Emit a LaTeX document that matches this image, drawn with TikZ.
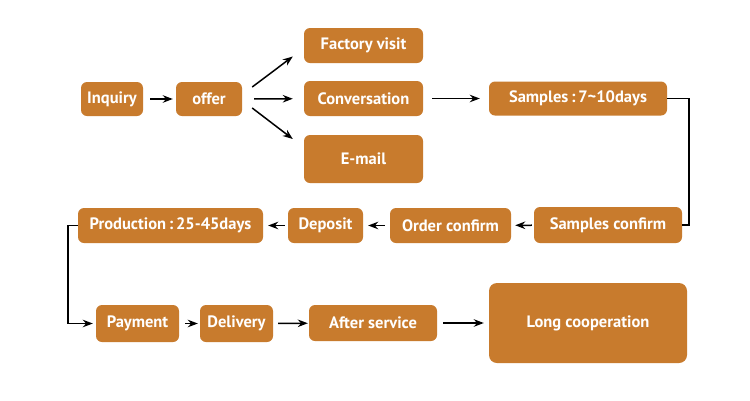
\documentclass[tikz,border=0pt]{standalone}
\usepackage{fontspec}
\setmainfont{PT Sans}
\usetikzlibrary{arrows.meta,calc}
\definecolor{boxc}{HTML}{C87B2D}
\begin{document}
\begin{tikzpicture}[x=1pt,y=-1pt,
  box/.style={fill=boxc, rounded corners=6pt, text=white, font=\fontsize{16.5}{18}\selectfont\bfseries, inner sep=0pt, anchor=center},
  arr/.style={line width=1.5pt, -{Stealth[length=10pt,width=7.5pt]}},
  ln/.style={line width=1.5pt}]
\useasboundingbox (0,0) rectangle (750,400);
\fill[white] (0,0) rectangle (750,400);
\node[box, minimum width=62pt, minimum height=34pt] (inq) at (112,99) {Inquiry};
\node[box, minimum width=66pt, minimum height=34pt] (offer) at (209,99) {offer};
\node[box, minimum width=119pt, minimum height=35pt] (fv) at (363.5,45.5) {Factory visit};
\node[box, minimum width=119pt, minimum height=35pt] (conv) at (363.5,98.5) {Conversation};
\node[box, minimum width=119pt, minimum height=48pt] (email) at (363.5,159) {E-mail};
\node[box, minimum width=178pt, minimum height=34pt] (samp) at (578,98.5) {Samples\,:\,7\textasciitilde10days};
\node[box, minimum width=148pt, minimum height=36pt] (sconf) at (608,225) {Samples confirm};
\node[box, minimum width=121pt, minimum height=35pt] (oconf) at (450.5,225.5) {Order confirm};
\node[box, minimum width=75pt, minimum height=35pt] (dep) at (325.5,225.5) {Deposit};
\node[box, minimum width=185pt, minimum height=35pt] (prod) at (170.5,225.5) {Production\,:\,25-45days};
\node[box, minimum width=83pt, minimum height=37pt] (pay) at (137.5,323.5) {Payment};
\node[box, minimum width=73pt, minimum height=37pt] (del) at (236.5,323.5) {Delivery};
\node[box, minimum width=128pt, minimum height=36pt] (after) at (373,323) {After service};
\node[box, minimum width=198pt, minimum height=80pt, rounded corners=8pt] (long) at (588,323) {Long cooperation};
\coordinate (rturn) at (689,98.5);
\coordinate (lturn) at (68,225.5);
\draw[arr, shorten <=7pt, shorten >=3pt] (inq) -- (offer);
\draw[arr] ($(offer.east)+(10,-12)$) -- ($(fv.west)+(-11,11)$);
\draw[arr, shorten <=12pt, shorten >=11pt] (offer) -- (conv);
\draw[arr] ($(offer.east)+(10,9)$) -- ($(email.west)+(-11,-20)$);
\draw[arr, shorten <=9pt, shorten >=9pt] (conv) -- (samp);
\draw[ln] (samp.east) -- (rturn) |- (sconf.east);
\draw[arr, shorten <=2pt, shorten >=4pt] (sconf) -- (oconf);
\draw[arr, shorten <=5pt, shorten >=5pt] (oconf) -- (dep);
\draw[arr, shorten <=3pt, shorten >=5pt] (dep) -- (prod);
\draw[arr, shorten >=3pt] (prod.west) -- (lturn) |- (pay.west);
\draw[arr, shorten <=6pt, shorten >=2pt] (pay) -- (del);
\draw[arr, shorten <=5pt, shorten >=1pt] (del) -- (after);
\draw[arr, shorten <=6pt, shorten >=5pt] (after) -- (long);
\end{tikzpicture}
\end{document}
